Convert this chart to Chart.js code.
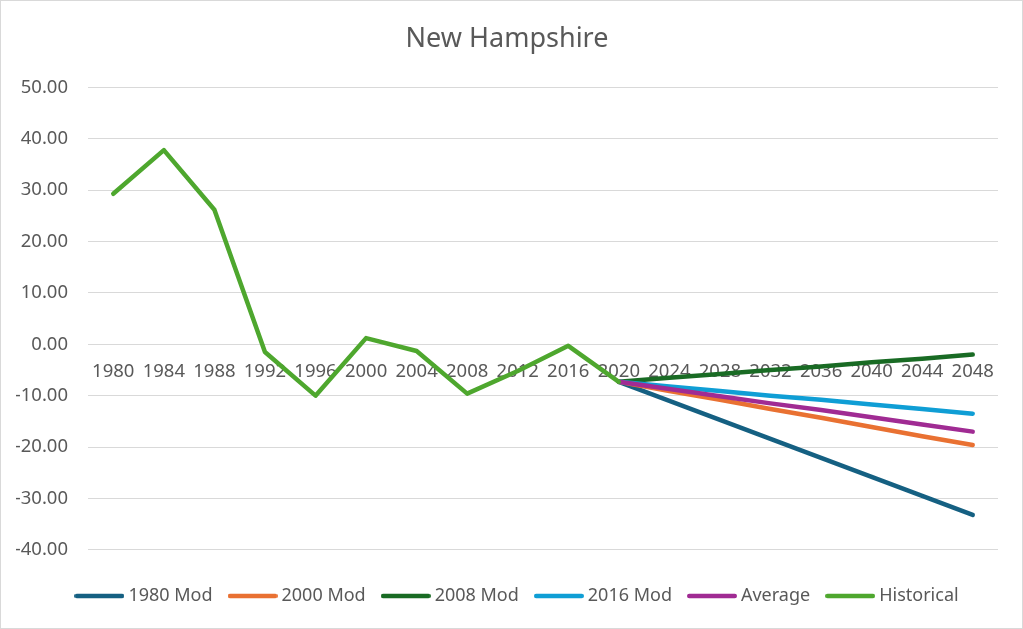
<!DOCTYPE html>
<html>
<head>
<meta charset="utf-8">
<script src="https://cdn.jsdelivr.net/npm/chart.js@4"></script>
<style>
  html, body { margin: 0; padding: 0; background: #fff; }
  #wrap { width: 1023px; height: 629px; box-sizing: border-box; border: 1px solid #d9d9d9; background: #fff; }
  canvas { display: block; }
</style>
</head>
<body>
<div id="wrap"><canvas id="chart" width="1021" height="627"></canvas></div>
<script>
const years = ['1980', '1984', '1988', '1992', '1996', '2000', '2004', '2008', '2012',
  '2016', '2020', '2024', '2028', '2032', '2036', '2040', '2044', '2048'];

// projections start at 2020; earlier years are blank
const mod1980 = [null, null, null, null, null, null, null, null, null, null,
  -7.3, -11.0, -14.7, -18.4, -22.1, -25.8, -29.5, -33.2];
const mod2000 = [null, null, null, null, null, null, null, null, null, null,
  -7.3, -9.1, -10.8, -12.6, -14.3, -16.1, -17.9, -19.6];
const mod2008 = [null, null, null, null, null, null, null, null, null, null,
  -7.3, -6.5, -5.8, -5.0, -4.3, -3.5, -2.8, -2.0];
const mod2016 = [null, null, null, null, null, null, null, null, null, null,
  -7.3, -8.2, -9.1, -10.0, -10.8, -11.7, -12.6, -13.5];
const average = [null, null, null, null, null, null, null, null, null, null,
  -7.3, -8.7, -10.1, -11.5, -12.8, -14.2, -15.6, -17.0];
const historical = [29.3, 37.8, 26.2, -1.5, -10.0, 1.2, -1.3, -9.6, -5.2,
  -0.3, -7.3, null, null, null, null, null, null, null];

const seriesNames = ['1980 Mod', '2000 Mod', '2008 Mod', '2016 Mod', 'Average', 'Historical'];
const seriesData = [mod1980, mod2000, mod2008, mod2016, average, historical];
const seriesColors = ['#156082', '#E97132', '#196B24', '#0F9ED5', '#A02B93', '#4EA72E'];

const textColor = '#595959';
const gridColor = '#d9d9d9';
const fontFamily = '"Noto Sans", "Liberation Sans", sans-serif';
const lineWidth = 4.5;

// legend swatch: a round-capped stroke, shifted so the text sits close to it
function makeSwatch(color) {
  const c = document.createElement('canvas');
  c.width = 50;
  c.height = 8;
  const g = c.getContext('2d');
  g.strokeStyle = color;
  g.lineWidth = lineWidth;
  g.lineCap = 'round';
  g.beginPath();
  g.moveTo(lineWidth / 2, 4);
  g.lineTo(50 - lineWidth / 2, 4);
  g.stroke();
  return c;
}

const datasets = seriesNames.map((name, i) => ({
  label: name,
  data: seriesData[i],
  borderColor: seriesColors[i],
  backgroundColor: seriesColors[i],
  borderWidth: lineWidth,
  borderCapStyle: 'round',
  borderJoinStyle: 'round',
  pointRadius: 0,
  pointHoverRadius: 0,
  pointStyle: makeSwatch(seriesColors[i]),
  tension: 0,
  fill: false,
  // later series sit on top, like in the spreadsheet
  order: seriesNames.length - i
}));

// nudge the legend row a little to the right
const legendShift = {
  id: 'legendShift',
  afterLayout(chart) {
    chart.legend.left += 12;
    chart.legend.right += 12;
  }
};

new Chart(document.getElementById('chart').getContext('2d'), {
  type: 'line',
  data: { labels: years, datasets },
  plugins: [legendShift],
  options: {
    responsive: false,
    animation: false,
    events: [],
    layout: { padding: { left: 15, right: 24, top: 6, bottom: 13 } },
    scales: {
      x: {
        type: 'category',
        offset: true,
        position: { y: 0 },
        grid: { display: false, drawTicks: false },
        border: { display: false },
        ticks: {
          color: textColor,
          font: { family: fontFamily, size: 18.5 },
          maxRotation: 0,
          autoSkip: false,
          padding: 16
        }
      },
      y: {
        min: -40,
        max: 50,
        grid: { color: gridColor, lineWidth: 1, drawTicks: false },
        border: { display: false },
        ticks: {
          stepSize: 10,
          color: textColor,
          font: { family: fontFamily, size: 18.5 },
          padding: 20,
          callback: v => v.toFixed(2)
        },
        afterFit: s => { s.width = 72; }
      }
    },
    plugins: {
      title: {
        display: true,
        text: 'New Hampshire',
        color: textColor,
        font: { family: fontFamily, size: 27, weight: 'normal' },
        padding: { top: 16, bottom: 32 }
      },
      legend: {
        position: 'bottom',
        title: { display: true, text: '', font: { size: 1 }, padding: { top: 0, bottom: 16 } },
        labels: {
          color: textColor,
          font: { family: fontFamily, size: 18 },
          usePointStyle: true,
          pointStyleWidth: 40,
          padding: 20,
          sort: (a, b) => a.datasetIndex - b.datasetIndex
        }
      },
      tooltip: { enabled: false }
    }
  }
});
</script>
</body>
</html>
